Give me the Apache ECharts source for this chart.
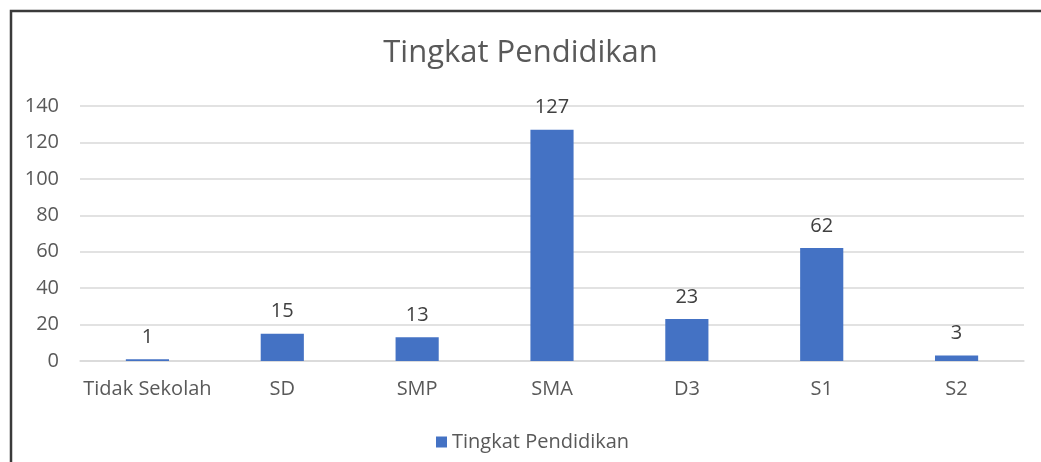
<!DOCTYPE html>
<html><head><meta charset="utf-8">
<script src="https://cdn.jsdelivr.net/npm/echarts@6/dist/echarts.min.js"></script>
<style>html,body{margin:0;padding:0;background:#fff}#c{width:1041px;height:462px}</style>
</head><body><div id="c"></div>
<script>
const categories = ['Tidak Sekolah','SD','SMP','SMA','D3','S1','S2'];
const values = [1,15,13,127,23,62,3];
const yTicks = [0,20,40,60,80,100,120,140];
const seriesName = 'Tingkat Pendidikan';
const titleText = 'Tingkat Pendidikan';

const chart = echarts.init(document.getElementById('c'), null, {renderer:'canvas'});
const font = '"Open Sans", sans-serif';
chart.setOption({
  animation:false,
  backgroundColor:'#fff',
  graphic:[{type:'polyline',shape:{points:[[11,470],[11,11],[1050,11]]},style:{stroke:'#3a3a3a',lineWidth:2.5,fill:null},silent:true}],
  title:{text:titleText,left:'center',top:33,textStyle:{fontFamily:font,fontSize:31,fontWeight:'normal',color:'#595959'}},
  legend:{bottom:5,left:431,itemWidth:11,itemHeight:11,itemGap:8,icon:'rect',
    textStyle:{fontFamily:font,fontSize:20,color:'#595959'},data:[seriesName]},
  grid:{left:80,right:17,top:106,bottom:101,containLabel:false},
  xAxis:{type:'category',data:categories,
    axisLine:{lineStyle:{color:'#d9d9d9',width:1.5}},axisTick:{show:false},
    axisLabel:{interval:0,fontFamily:font,fontSize:20,color:'#595959',margin:18}},
  yAxis:{type:'value',min:yTicks[0],max:yTicks[yTicks.length-1],interval:20,
    axisLine:{show:false},axisTick:{show:false},
    splitLine:{lineStyle:{color:'#d9d9d9',width:1.5}},
    axisLabel:{fontFamily:font,fontSize:20,color:'#595959',margin:21}},
  series:[{name:seriesName,type:'bar',data:values,barWidth:'32%',
    itemStyle:{color:'#4472C4'},
    label:{show:true,position:'top',distance:12,fontFamily:font,fontSize:20,color:'#404040'}}]
});
</script></body></html>
